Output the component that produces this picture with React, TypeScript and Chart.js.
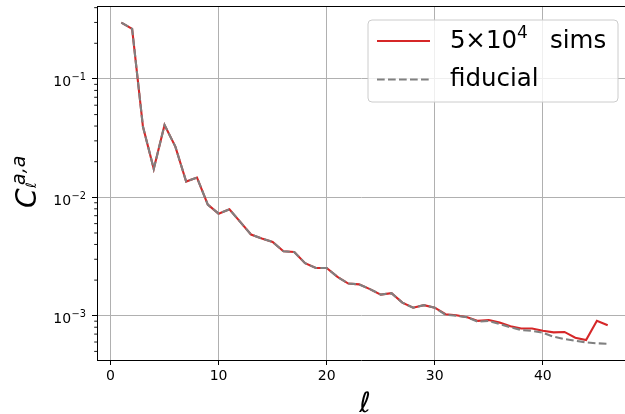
import { useEffect, useRef } from 'react';
import { Chart, registerables } from 'chart.js';

Chart.register(...registerables);

// multipole index ℓ
const ells = [
  1, 2, 3, 4, 5, 6, 7, 8, 9, 10,
  11, 12, 13, 14, 15, 16, 17, 18, 19, 20,
  21, 22, 23, 24, 25, 26, 27, 28, 29, 30,
  31, 32, 33, 34, 35, 36, 37, 38, 39, 40,
  41, 42, 43, 44, 45, 46,
];

// 5×10^4 sims
const simsValues = [
  0.299, 0.265, 0.0396, 0.0174, 0.0409, 0.0268, 0.0136, 0.0147, 0.00868, 0.00728,
  0.00792, 0.0062, 0.00485, 0.00449, 0.0042, 0.0035, 0.00345, 0.00278, 0.00253, 0.00253,
  0.00213, 0.00187, 0.00184, 0.00168, 0.00151, 0.00155, 0.00129, 0.00117, 0.00123, 0.00117,
  0.00103, 0.00101, 0.00097, 0.000905, 0.00092, 0.000875, 0.000815, 0.00078, 0.00078, 0.000746,
  0.000724, 0.00073, 0.000652, 0.000624, 0.000908, 0.00083,
];

// fiducial
const fiducialValues = [
  0.299, 0.265, 0.0396, 0.0174, 0.0409, 0.0268, 0.0136, 0.0147, 0.00868, 0.00728,
  0.00792, 0.0062, 0.00485, 0.00449, 0.0042, 0.0035, 0.00345, 0.00278, 0.00253, 0.00253,
  0.00213, 0.00187, 0.00184, 0.00168, 0.00151, 0.00155, 0.00129, 0.00117, 0.00123, 0.00117,
  0.00102, 0.001, 0.00097, 0.00089, 0.000905, 0.00085, 0.0008, 0.000757, 0.000746, 0.000719,
  0.000665, 0.000636, 0.000615, 0.000596, 0.000585, 0.00058,
];

const xTicks = [0, 10, 20, 30, 40];
const yMajorTicks = [1e-3, 1e-2, 1e-1];
const yMajorExponents = ['−3', '−2', '−1'];
const yDecades = [1e-4, 1e-3, 1e-2, 1e-1];
const seriesLabels = ['sims', 'fiducial'];

const X_MIN = -1.25;
const X_MAX = 47.6;
const Y_MIN = 4.23e-4;
const Y_MAX = 0.413;

const FONT = '"DejaVu Sans"';
const RED = '#d62728';
const GREY = '#808080';

export default function App() {
  const ref = useRef<HTMLCanvasElement>(null);

  useEffect(() => {
    if (!ref.current) return;

    const isMajor = (v: number) => yMajorTicks.some((m) => Math.abs(v / m - 1) < 1e-6);
    const yAll: number[] = [];
    for (const d of yDecades) {
      for (let k = 1; k <= 9; k++) {
        const v = k * d;
        if (v >= Y_MIN && v <= Y_MAX) yAll.push(v);
      }
    }

    const decor = {
      id: 'decor',
      afterDraw(chart: any) {
        const ctx: CanvasRenderingContext2D = chart.ctx;
        const area = chart.chartArea;
        const ys = chart.scales.y;
        ctx.save();

        // top spine
        ctx.strokeStyle = '#000';
        ctx.lineWidth = 1;
        ctx.beginPath();
        ctx.moveTo(area.left, Math.round(area.top) + 0.5);
        ctx.lineTo(area.right, Math.round(area.top) + 0.5);
        ctx.stroke();

        // minor y ticks
        ctx.lineWidth = 0.9;
        for (const v of yAll) {
          if (isMajor(v)) continue;
          const y = ys.getPixelForValue(v);
          ctx.beginPath();
          ctx.moveTo(area.left - 2.8, y);
          ctx.lineTo(area.left, y);
          ctx.stroke();
        }

        // y major tick labels 10^k
        ctx.fillStyle = '#000';
        ctx.textBaseline = 'alphabetic';
        ctx.textAlign = 'left';
        yMajorTicks.forEach((v, i) => {
          const y = ys.getPixelForValue(v);
          ctx.font = `14px ${FONT}`;
          const wBase = ctx.measureText('10').width;
          ctx.font = `9.8px ${FONT}`;
          const wSup = ctx.measureText(yMajorExponents[i]).width;
          const right = 86;
          const x0 = right - wSup - wBase - 0.5;
          ctx.font = `14px ${FONT}`;
          ctx.fillText('10', x0, y + 7.5);
          ctx.font = `9.8px ${FONT}`;
          ctx.fillText(yMajorExponents[i], x0 + wBase + 0.5, y + 1.3);
        });

        // y axis label C_ℓ^{a,a}
        ctx.save();
        ctx.translate(36, (area.top + area.bottom) / 2);
        ctx.rotate(-Math.PI / 2);
        ctx.font = `italic 28px ${FONT}`;
        ctx.fillText('C', -25, 0);
        ctx.font = `italic 19px ${FONT}`;
        ctx.fillText('a,a', -2, -11);
        ctx.font = `italic 14px ${FONT}`;
        ctx.fillText('ℓ', -5, 0);
        ctx.restore();

        // x axis label ℓ
        ctx.font = `italic 28px ${FONT}`;
        ctx.textAlign = 'center';
        ctx.fillText('ℓ', 365, 412);
        ctx.textAlign = 'left';

        // legend
        const bx = 368, by = 20, bw = 250, bh = 82, r = 4;
        ctx.beginPath();
        ctx.moveTo(bx + r, by);
        ctx.lineTo(bx + bw - r, by);
        ctx.arcTo(bx + bw, by, bx + bw, by + r, r);
        ctx.lineTo(bx + bw, by + bh - r);
        ctx.arcTo(bx + bw, by + bh, bx + bw - r, by + bh, r);
        ctx.lineTo(bx + r, by + bh);
        ctx.arcTo(bx, by + bh, bx, by + bh - r, r);
        ctx.lineTo(bx, by + r);
        ctx.arcTo(bx, by, bx + r, by, r);
        ctx.closePath();
        ctx.fillStyle = 'rgba(255,255,255,0.8)';
        ctx.fill();
        ctx.strokeStyle = '#cccccc';
        ctx.lineWidth = 1;
        ctx.stroke();

        ctx.lineWidth = 2;
        ctx.strokeStyle = RED;
        ctx.beginPath();
        ctx.moveTo(377, 41);
        ctx.lineTo(430, 41);
        ctx.stroke();
        ctx.strokeStyle = GREY;
        ctx.setLineDash([7.7, 3.3]);
        ctx.beginPath();
        ctx.moveTo(377, 79.5);
        ctx.lineTo(430, 79.5);
        ctx.stroke();
        ctx.setLineDash([]);

        ctx.fillStyle = '#000';
        const b1 = 47.5;
        ctx.font = `24.5px ${FONT}`;
        ctx.fillText('5', 450, b1);
        ctx.textAlign = 'center';
        ctx.fillText('×', 475.5, b1);
        ctx.textAlign = 'left';
        ctx.fillText('10', 486, b1);
        ctx.font = `17px ${FONT}`;
        ctx.fillText('4', 517, b1 - 10);
        ctx.font = `24.5px ${FONT}`;
        ctx.fillText(seriesLabels[0], 550, b1);
        ctx.fillText(seriesLabels[1], 450, 86);

        ctx.restore();
      },
    };

    const chart = new Chart(ref.current, {
      type: 'line',
      data: {
        datasets: [
          {
            label: '5 × 10⁴ sims',
            data: ells.map((l, i) => ({ x: l, y: simsValues[i] })),
            borderColor: RED,
            borderWidth: 2.1,
            pointRadius: 0,
            tension: 0,
            fill: false,
            order: 2,
          },
          {
            label: 'fiducial',
            data: ells.map((l, i) => ({ x: l, y: fiducialValues[i] })),
            borderColor: GREY,
            borderWidth: 2.1,
            borderDash: [7.7, 3.3],
            pointRadius: 0,
            tension: 0,
            fill: false,
            order: 1,
          },
        ],
      },
      options: {
        animation: false,
        responsive: false,
        devicePixelRatio: 1,
        layout: { padding: { top: 6, right: 0, bottom: 0, left: 0 } },
        plugins: {
          legend: { display: false },
          tooltip: { enabled: false },
        },
        scales: {
          x: {
            type: 'linear',
            min: X_MIN,
            max: X_MAX,
            afterBuildTicks: (s: any) => {
              s.ticks = xTicks.map((v) => ({ value: v }));
            },
            afterFit: (s: any) => {
              s.height = 54;
              s.paddingLeft = 0;
              s.paddingRight = 0;
            },
            grid: {
              color: '#b0b0b0',
              lineWidth: 1,
              tickColor: '#000',
              tickLength: 5,
              tickWidth: 1,
            },
            border: { color: '#000', width: 1 },
            ticks: {
              font: { family: 'DejaVu Sans', size: 14 },
              color: '#000',
              padding: 3,
              maxRotation: 0,
              autoSkip: false,
            },
          },
          y: {
            type: 'logarithmic',
            min: Y_MIN,
            max: Y_MAX,
            afterBuildTicks: (s: any) => {
              s.ticks = yAll.map((v) => ({ value: v, major: isMajor(v) }));
            },
            afterFit: (s: any) => {
              s.width = 97;
              s.paddingTop = 0;
              s.paddingBottom = 0;
            },
            grid: {
              color: (c: any) => (c.tick && isMajor(c.tick.value) ? '#b0b0b0' : 'rgba(0,0,0,0)'),
              tickColor: (c: any) => (c.tick && isMajor(c.tick.value) ? '#000' : 'rgba(0,0,0,0)'),
              lineWidth: 1,
              tickLength: 5,
              tickWidth: 1,
            },
            border: { color: '#000', width: 1 },
            ticks: {
              callback: () => '',
              autoSkip: false,
            },
          },
        },
      },
      plugins: [decor],
    });

    return () => chart.destroy();
  }, []);

  return (
    <div style={{ position: 'absolute', left: 0, top: 0, width: 625, height: 414, background: '#fff' }}>
      <canvas ref={ref} width={625} height={414} style={{ display: 'block' }} />
    </div>
  );
}
